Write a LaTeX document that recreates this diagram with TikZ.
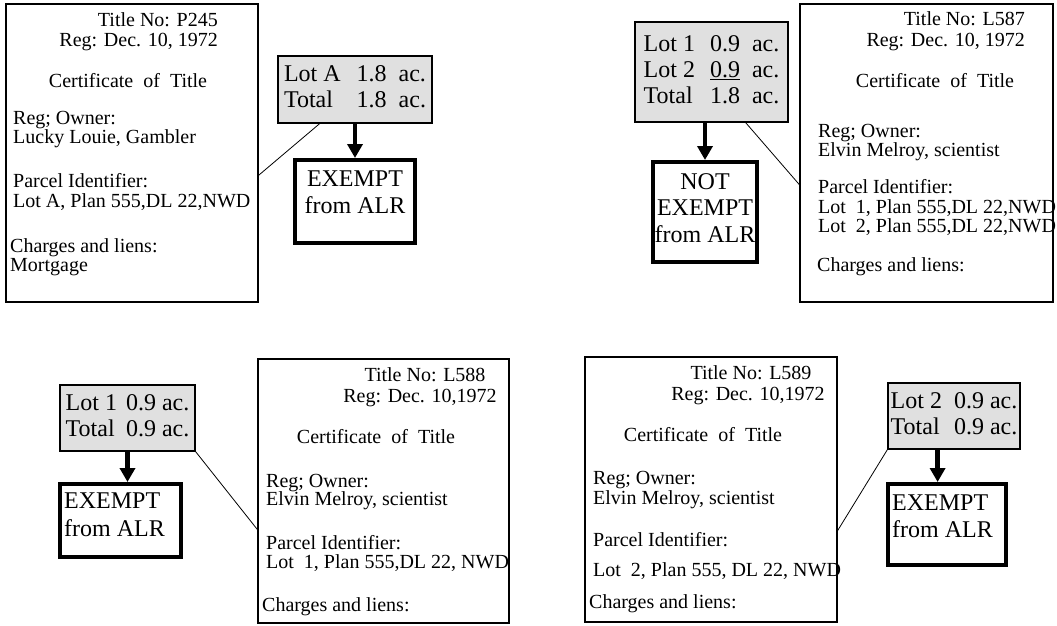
\documentclass[tikz,border=0pt]{standalone}
\usepackage{fontspec}
\setmainfont{Liberation Serif}
\usetikzlibrary{arrows.meta}
\tikzset{
    certbox/.style = {
        rectangle, draw, line width=1.2pt,
        inner sep=0pt
    },
    certtext/.style = {
        inner sep=0pt,
        font=\fontsize{20}{20}\selectfont
    },
    lotbox/.style = {
        rectangle, draw, line width=1.2pt, fill=black!12,
        inner sep=0pt,
        font=\fontsize{24}{26}\selectfont
    },
    exbox/.style = {
        rectangle, draw, line width=4pt,
        inner sep=0pt
    },
    extext/.style = {
        inner sep=0pt,
        font=\fontsize{24}{26}\selectfont
    },
    flow/.style = {
        -{Triangle[width=15pt, length=14pt]}, line width=4.5pt
    },
    link/.style = {
        line width=0.8pt
    }
}
\begin{document}
\begin{tikzpicture}[x=1pt, y=-1pt]
\useasboundingbox (0,0) rectangle (1057,626);

% Title P245
\node (cert245) [certbox, minimum width=252pt, minimum height=298pt] at (132,153) {};
\node (no245) [certtext, anchor=base east] at (218,27) {Title No: P245};
\node (reg245) [certtext, anchor=base east] at (218,47) {Reg: Dec. 10, 1972};
\node (head245) [certtext, anchor=base] at (128,88) {Certificate~ of~ Title};
\node (own245a) [certtext, anchor=base west] at (13,124) {Reg; Owner:};
\node (own245b) [certtext, anchor=base west] at (13,143) {Lucky Louie, Gambler};
\node (pid245a) [certtext, anchor=base west] at (13,187) {Parcel Identifier:};
\node (pid245b) [certtext, anchor=base west] at (13,207) {Lot A, Plan 555,DL 22,NWD};
\node (chg245a) [certtext, anchor=base west] at (10,252) {Charges and liens:};
\node (chg245b) [certtext, anchor=base west] at (10,271) {Mortgage};
\node (lot245) [lotbox, minimum width=154pt, minimum height=67pt] at (355,89.5)
    {\begin{tabular}{@{}l@{\hspace{16pt}}l@{}}Lot A & 1.8~ ac.\\ Total & 1.8~ ac.\end{tabular}};
\node (ex245) [exbox, minimum width=120pt, minimum height=83pt] at (355,201.5) {};
\node (ex245a) [extext, anchor=base] at (355,186) {EXEMPT};
\node (ex245b) [extext, anchor=base] at (355,213) {from ALR};
\draw [flow] (lot245) -- (ex245);
\draw [link] (cert245.-10) -- (lot245.224);

% Title L587
\node (cert587) [certbox, minimum width=253pt, minimum height=298pt] at (926.5,153) {};
\node (no587) [certtext, anchor=base east] at (1025,26) {Title No: L587};
\node (reg587) [certtext, anchor=base east] at (1025,47) {Reg: Dec. 10, 1972};
\node (head587) [certtext, anchor=base] at (935,87) {Certificate~ of~ Title};
\node (own587a) [certtext, anchor=base west] at (818,137) {Reg; Owner:};
\node (own587b) [certtext, anchor=base west] at (818,156) {Elvin Melroy, scientist};
\node (pid587a) [certtext, anchor=base west] at (818,193) {Parcel Identifier:};
\node (pid587b) [certtext, anchor=base west] at (818,213) {Lot~ 1, Plan 555,DL 22,NWD};
\node (pid587c) [certtext, anchor=base west] at (818,232) {Lot~ 2, Plan 555,DL 22,NWD};
\node (chg587) [certtext, anchor=base west] at (817,271) {Charges and liens:};
\node (lot587) [lotbox, minimum width=153pt, minimum height=100pt] at (711.5,72)
    {\begin{tabular}{@{}l@{\hspace{15pt}}l@{}}Lot 1 & 0.9~ ac.\\ Lot 2 & \underline{0.9}~ ac.\\ Total & 1.8~ ac.\end{tabular}};
\node (ex587) [exbox, minimum width=104pt, minimum height=100pt] at (705,212) {};
\node (ex587a) [extext, anchor=base] at (705,189) {NOT};
\node (ex587b) [extext, anchor=base] at (705,215) {EXEMPT};
\node (ex587c) [extext, anchor=base] at (705,242) {from ALR};
\draw [flow] (ex587.north |- lot587.south) -- (ex587);
\draw [link] (lot587.-56) -- (cert587.194);

% Title L588
\node (cert588) [certbox, minimum width=251pt, minimum height=264pt] at (383.5,491) {};
\node (no588) [certtext, anchor=base] at (425,381) {Title No: L588};
\node (reg588) [certtext, anchor=base] at (420,402) {Reg: Dec. 10,1972};
\node (head588) [certtext, anchor=base] at (376,443) {Certificate~ of~ Title};
\node (own588a) [certtext, anchor=base west] at (266,487) {Reg; Owner:};
\node (own588b) [certtext, anchor=base west] at (266,505) {Elvin Melroy, scientist};
\node (pid588a) [certtext, anchor=base west] at (266,549) {Parcel Identifier:};
\node (pid588b) [certtext, anchor=base west] at (266,568) {Lot~ 1, Plan 555,DL 22, NWD};
\node (chg588) [certtext, anchor=base west] at (262,611) {Charges and liens:};
\node (lot588) [lotbox, minimum width=135pt, minimum height=66pt] at (127.5,418)
    {\begin{tabular}{@{}l@{\hspace{9pt}}l@{}}Lot 1 & 0.9 ac.\\ Total & 0.9 ac.\end{tabular}};
\node (ex588) [exbox, minimum width=121pt, minimum height=73pt] at (120.5,520.5) {};
\node (ex588a) [extext, anchor=base west] at (64,508) {EXEMPT};
\node (ex588b) [extext, anchor=base west] at (64,536) {from ALR};
\draw [flow] (lot588) -- (lot588.south |- ex588.north);
\draw [link] (lot588.south east) -- (cert588.197);

% Title L589
\node (cert589) [certbox, minimum width=252pt, minimum height=265pt] at (711,489.5) {};
\node (no589) [certtext, anchor=base] at (751,379) {Title No: L589};
\node (reg589) [certtext, anchor=base] at (748,400) {Reg: Dec. 10,1972};
\node (head589) [certtext, anchor=base] at (703,441) {Certificate~ of~ Title};
\node (own589a) [certtext, anchor=base west] at (593,484) {Reg; Owner:};
\node (own589b) [certtext, anchor=base west] at (593,504) {Elvin Melroy, scientist};
\node (pid589a) [certtext, anchor=base west] at (593,546) {Parcel Identifier:};
\node (pid589b) [certtext, anchor=base west] at (593,576) {Lot~ 2, Plan 555, DL 22, NWD};
\node (chg589) [certtext, anchor=base west] at (589,608) {Charges and liens:};
\node (lot589) [lotbox, minimum width=132pt, minimum height=66pt] at (954,416)
    {\begin{tabular}{@{}l@{\hspace{12pt}}l@{}}Lot 2 & 0.9 ac.\\ Total & 0.9 ac.\end{tabular}};
\node (ex589) [exbox, minimum width=118pt, minimum height=81pt] at (947,524.5) {};
\node (ex589a) [extext, anchor=base west] at (892,510) {EXEMPT};
\node (ex589b) [extext, anchor=base west] at (892,537) {from ALR};
\draw [flow] (lot589.244) -- (lot589.244 |- ex589.north);
\draw [link] (cert589.-18) -- (lot589.south west);

\end{tikzpicture}
\end{document}
